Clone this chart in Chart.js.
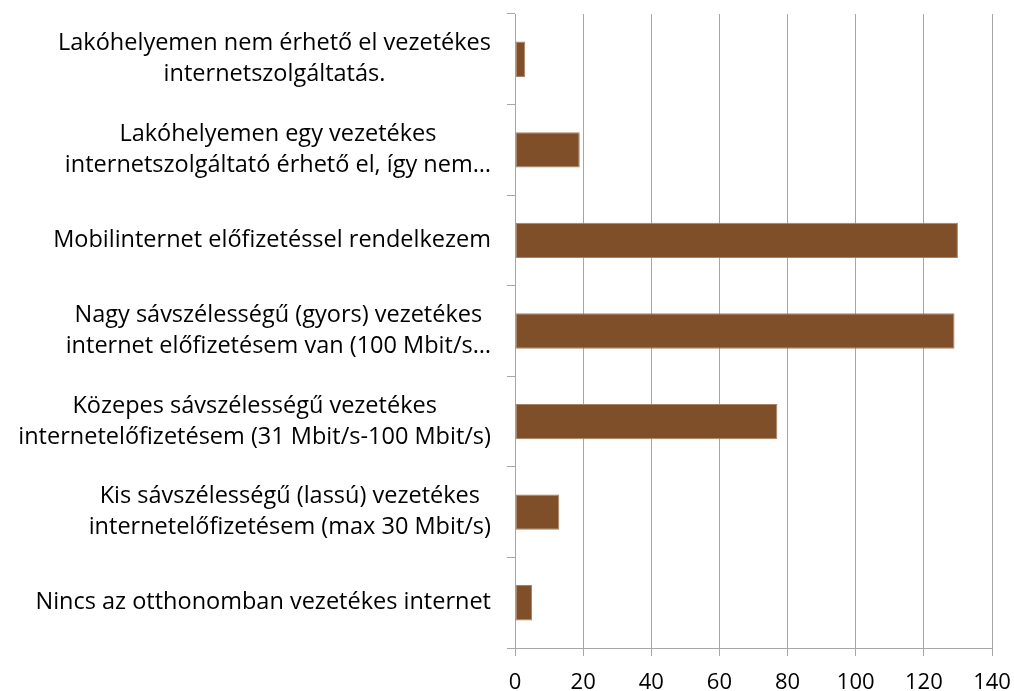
<!DOCTYPE html>
<html>
<head>
<meta charset="utf-8">
<script src="https://cdn.jsdelivr.net/npm/chart.js@4/dist/chart.umd.min.js"></script>
<style>
  html, body { margin: 0; padding: 0; background: #fff; }
  #wrap { width: 1014px; height: 691px; }
</style>
</head>
<body>
<div id="wrap"><canvas id="grafikon"></canvas></div>
<script>
// válaszkategóriák (soronként tördelve)
const kategoriak = [
    ['Lakóhelyemen nem érhető el vezetékes', 'internetszolgáltatás.'],
    ['Lakóhelyemen egy vezetékes', 'internetszolgáltató érhető el, így nem…'],
    ['Mobilinternet előfizetéssel rendelkezem'],
    ['Nagy sávszélességű (gyors) vezetékes', 'internet előfizetésem van (100 Mbit/s…'],
    ['Közepes sávszélességű vezetékes', 'internetelőfizetésem (31 Mbit/s-100 Mbit/s)'],
    ['Kis sávszélességű (lassú) vezetékes', 'internetelőfizetésem (max 30 Mbit/s)'],
    ['Nincs az otthonomban vezetékes internet']
];
const valaszok = [3, 19, 130, 129, 77, 13, 5];
const xMax = 140;
const xLepes = 20;

const betu = '"Open Sans", "Noto Sans", sans-serif';
const racsSzin = '#a6a6a6';

// a kategóriafeliratokat maga rajzolja ki, hogy a sorok középre legyenek igazítva
const feliratok = {
    id: 'feliratok',
    afterDraw: function (chart) {
        var ctx = chart.ctx;
        var y = chart.scales.y;
        ctx.save();
        ctx.font = '23.5px ' + betu;
        ctx.fillStyle = '#000';
        ctx.textAlign = 'center';
        ctx.textBaseline = 'middle';
        var sorkoz = 31;
        var jobbSzel = 491;
        for (var i = 0; i < kategoriak.length; i++) {
            var sorok = kategoriak[i];
            var szel = Math.max(...sorok.map(s => ctx.measureText(s).width));
            var kozep = jobbSzel - szel / 2;
            var kozepY = y.getPixelForValue(i);
            var elso = kozepY - (sorok.length - 1) * sorkoz / 2;
            for (var j = 0; j < sorok.length; j++) {
                ctx.fillText(sorok[j], kozep, elso + j * sorkoz);
            }
        }
        ctx.restore();
    }
};

var ctx = document.getElementById('grafikon').getContext('2d');
var grafikon = new Chart(ctx, {
    type: 'bar',
    data: {
        labels: kategoriak.map(k => k.join(' ')),
        datasets: [{
            data: valaszok,
            backgroundColor: '#7f4f2a',
            borderColor: '#a98264',
            borderWidth: 1,
            borderSkipped: false,
            categoryPercentage: 1,
            barPercentage: 0.39
        }]
    },
    options: {
        indexAxis: 'y',
        responsive: true,
        maintainAspectRatio: false,
        animation: false,
        layout: {
            padding: { top: 14, right: 0, left: 0, bottom: 0 }
        },
        scales: {
            x: {
                min: 0,
                max: xMax,
                ticks: {
                    stepSize: xLepes,
                    color: '#000',
                    padding: 14,
                    font: { family: betu, size: 22 }
                },
                grid: {
                    color: racsSzin,
                    lineWidth: 1,
                    drawTicks: true,
                    tickLength: 8
                },
                border: { color: racsSzin, width: 1 },
                afterFit: function (scale) {
                    scale.height = 43;
                    scale.paddingRight = 22;
                }
            },
            y: {
                ticks: { display: false },
                grid: {
                    drawOnChartArea: false,
                    drawTicks: true,
                    tickLength: 8,
                    color: racsSzin,
                    lineWidth: 1
                },
                border: { color: racsSzin, width: 1 },
                afterFit: function (scale) { scale.width = 515; }
            }
        },
        plugins: {
            legend: { display: false },
            tooltip: { enabled: false }
        }
    },
    plugins: [feliratok]
});
</script>
</body>
</html>
